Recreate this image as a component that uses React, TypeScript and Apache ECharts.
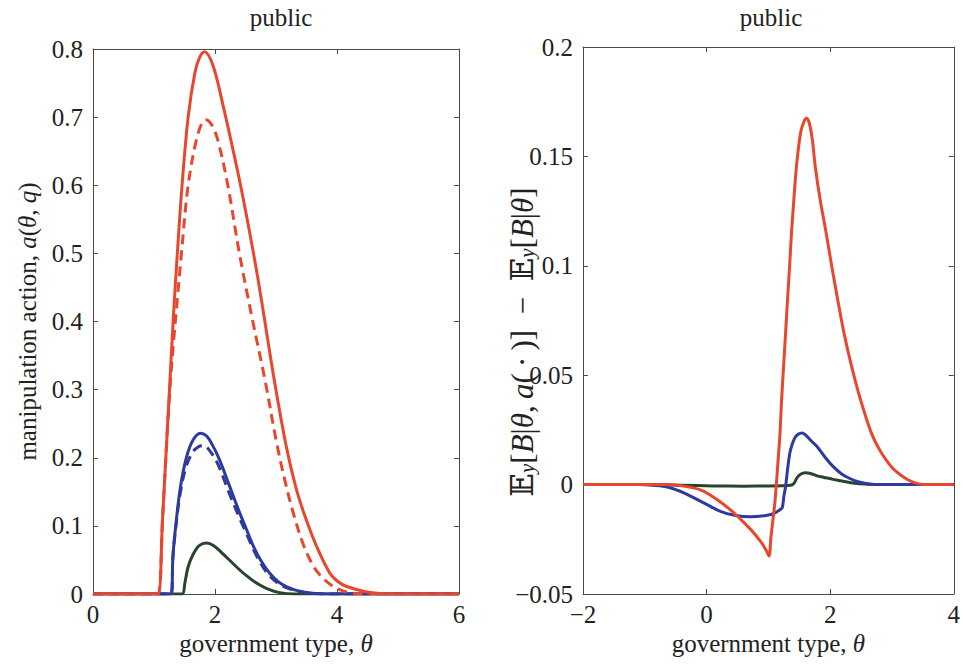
import React, { useEffect, useRef } from 'react';
import * as echarts from 'echarts';

const FONT = 'Liberation Serif, DejaVu Serif, serif';
const TEXT = '#222';
const FRAME = '#4a4a4a';
const RED = '#e8472d';
const BLUE = '#2d3a9e';
const GREEN = '#28452c';

const titles = ['public', 'public'];
const leftXLabel = 'government type, {i|θ}';
const rightXLabel = 'government type, {i|θ}';
const leftYLabel = 'manipulation action, {i|a}({i|θ}, {i|q})';
const rightYLabel = '{e|𝔼}{s|y}[{i|B}|{i|θ},\u2009{i|a}(\u2009·\u2009)]\u2002−\u2002{e|𝔼}{s|y}[{i|B}|{i|θ}]';

// Left panel: manipulation action a(θ, q)
const leftRedSolid: [number, number][] = [
  [0, 0], [1.0, 0], [1.07, 0], [1.14, 0.11], [1.2, 0.21], [1.26, 0.31], [1.32, 0.41], [1.39, 0.51],
  [1.46, 0.6], [1.56, 0.7], [1.67, 0.765], [1.75, 0.788], [1.83, 0.796], [1.97, 0.775], [2.13, 0.718],
  [2.3, 0.65], [2.43, 0.595], [2.57, 0.53], [2.7, 0.465], [2.8, 0.41], [2.97, 0.315], [3.17, 0.216],
  [3.33, 0.155], [3.48, 0.113], [3.67, 0.069], [3.88, 0.031], [4.02, 0.018], [4.16, 0.011],
  [4.49, 0.003], [4.8, 0.0005], [5.2, 0], [6, 0],
];
const leftRedDashed: [number, number][] = [
  [0, 0], [1.0, 0], [1.07, 0], [1.14, 0.11], [1.2, 0.21], [1.26, 0.3], [1.32, 0.37], [1.38, 0.43],
  [1.45, 0.5], [1.56, 0.6], [1.69, 0.665], [1.78, 0.69], [1.85, 0.696], [1.95, 0.688], [2.05, 0.665],
  [2.21, 0.6], [2.4, 0.5], [2.62, 0.4], [2.82, 0.314], [3.01, 0.222], [3.15, 0.165], [3.28, 0.12],
  [3.45, 0.072], [3.6, 0.043], [3.72, 0.028], [3.94, 0.011], [4.2, 0.002], [4.5, 0], [6, 0],
];
const leftBlueSolid: [number, number][] = [
  [0, 0], [1.22, 0], [1.28, 0], [1.31, 0.055], [1.35, 0.095], [1.43, 0.155], [1.53, 0.2], [1.64, 0.226],
  [1.76, 0.236], [1.86, 0.232], [1.95, 0.22], [2.07, 0.198], [2.24, 0.158], [2.41, 0.118], [2.52, 0.094],
  [2.63, 0.07], [2.76, 0.048], [2.9, 0.03], [3.05, 0.017], [3.17, 0.011], [3.35, 0.005], [3.6, 0.001],
  [3.9, 0], [6, 0],
];
const leftBlueDashed: [number, number][] = [
  [0, 0], [1.22, 0], [1.28, 0], [1.31, 0.054], [1.35, 0.092], [1.43, 0.148], [1.53, 0.188], [1.64, 0.209],
  [1.73, 0.216], [1.8, 0.218], [1.9, 0.212], [2.05, 0.19], [2.22, 0.151], [2.4, 0.112], [2.52, 0.088],
  [2.62, 0.067], [2.75, 0.045], [2.88, 0.028], [3.03, 0.016], [3.15, 0.01], [3.35, 0.004], [3.6, 0.001],
  [3.9, 0], [6, 0],
];
const leftGreen: [number, number][] = [
  [0, 0], [1.42, 0], [1.47, 0], [1.51, 0.018], [1.56, 0.04], [1.64, 0.058], [1.74, 0.071], [1.86, 0.075],
  [1.98, 0.071], [2.13, 0.059], [2.35, 0.04], [2.5, 0.028], [2.68, 0.016], [2.85, 0.008], [3.06, 0.002],
  [3.3, 0], [6, 0],
];

// Right panel: E_y[B|θ,a(·)] − E_y[B|θ]
const rightRed: [number, number][] = [
  [-2, 0], [-0.7, 0], [-0.5, -0.0002], [-0.35, -0.0008], [-0.09, -0.0025], [0.18, -0.007], [0.45, -0.0131],
  [0.72, -0.0207], [0.88, -0.0262], [0.96, -0.0298], [1.01, -0.0326], [1.04, -0.0245], [1.07, -0.017],
  [1.107, -0.0077], [1.13, 0.0006], [1.15, 0.0082], [1.188, 0.0234], [1.214, 0.0387], [1.246, 0.0539],
  [1.278, 0.0691], [1.31, 0.0844], [1.343, 0.0996], [1.374, 0.1149], [1.412, 0.1301], [1.454, 0.1453],
  [1.519, 0.1605], [1.57, 0.1655], [1.615, 0.1674], [1.66, 0.1655], [1.71, 0.158], [1.759, 0.1453],
  [1.839, 0.1301], [1.936, 0.1149], [2.027, 0.0996], [2.123, 0.0844], [2.225, 0.0691], [2.348, 0.0539],
  [2.492, 0.0387], [2.669, 0.0234], [2.802, 0.0158], [2.99, 0.0082], [3.18, 0.0036], [3.35, 0.001],
  [3.5, 0], [4, 0],
];
const rightBlue: [number, number][] = [
  [-2, 0], [-1.1, 0], [-0.88, -0.0003], [-0.62, -0.0012], [-0.35, -0.004], [-0.03, -0.0086],
  [0.235, -0.0124], [0.45, -0.014], [0.716, -0.0147], [0.98, -0.014], [1.1, -0.013], [1.19, -0.0114],
  [1.225, -0.0105], [1.25, -0.0055], [1.278, -0.001], [1.316, 0.0082], [1.358, 0.0158], [1.423, 0.0211],
  [1.48, 0.023], [1.546, 0.0236], [1.62, 0.0222], [1.7, 0.0198], [1.79, 0.0173], [1.92, 0.0124],
  [2.05, 0.0082], [2.18, 0.005], [2.31, 0.0029], [2.45, 0.0013], [2.6, 0.0004], [2.8, 0], [4, 0],
];
const rightGreen: [number, number][] = [
  [-2, 0], [-0.8, 0], [-0.4, -0.0003], [0.1, -0.0006], [0.6, -0.0007], [1.0, -0.0006], [1.3, -0.0004],
  [1.38, -0.0002], [1.42, 0.0008], [1.46, 0.003], [1.52, 0.0047], [1.6, 0.0054], [1.68, 0.0051],
  [1.79, 0.004], [1.89, 0.0034], [2.05, 0.0024], [2.21, 0.0015], [2.4, 0.0006], [2.6, 0.0002], [2.8, 0],
  [4, 0],
];

const fmt = (v: number) => {
  const r = Math.round(v * 100) / 100;
  return r < 0 ? '\u2212' + String(Math.abs(r)) : String(r);
};

const FS = 25;
const baseText = { fontFamily: FONT, fontSize: FS, color: TEXT };
const richLeft = {
  i: { ...baseText, fontStyle: 'italic' },
};
const FS2 = 31;
const richRight = {
  i: { fontFamily: FONT, fontSize: FS2, fill: TEXT, fontStyle: 'italic' },
  e: { fontFamily: FONT, fontSize: FS2, fill: TEXT },
  s: { fontFamily: FONT, fontSize: 21, fill: TEXT, fontStyle: 'italic', verticalAlign: 'bottom', lineHeight: 21 },
};

const frameLine = { show: true, onZero: false, lineStyle: { color: FRAME, width: 1 } };
const frameTick = { show: true, inside: true, length: 5, lineStyle: { color: FRAME, width: 1 } };

function xAxes(grid: number, min: number, max: number, interval: number, name: string) {
  const common = {
    gridIndex: grid, type: 'value', min, max, interval,
    axisLine: frameLine, axisTick: frameTick, splitLine: { show: false },
  };
  return [
    {
      ...common, position: 'bottom',
      axisLabel: { margin: 8, formatter: fmt, ...baseText },
      name, nameLocation: 'middle', nameGap: 37, nameMoveOverlap: false,
      nameTextStyle: { ...baseText, rich: richLeft },
    },
    { ...common, position: 'top', axisLabel: { show: false } },
  ];
}

function yAxes(grid: number, min: number, max: number, interval: number, name: string, gap: number) {
  const common = {
    gridIndex: grid, type: 'value', min, max, interval,
    axisLine: frameLine, axisTick: frameTick, splitLine: { show: false },
  };
  return [
    {
      ...common, position: 'left',
      axisLabel: { margin: 10, formatter: fmt, ...baseText },
      name, nameLocation: 'middle', nameGap: gap, nameMoveOverlap: false,
      nameTextStyle: { ...baseText, rich: richLeft },
    },
    { ...common, position: 'right', axisLabel: { show: false } },
  ];
}

function line(data: [number, number][], color: string, axis: number, dashed = false) {
  return {
    type: 'line', data, xAxisIndex: axis, yAxisIndex: axis,
    showSymbol: false, symbol: 'none', smooth: 0.35,
    lineStyle: { color, width: 3, type: dashed ? [10, 6] : 'solid', cap: 'butt', join: 'round' },
    silent: true,
  };
}

export default function App() {
  const ref = useRef<HTMLDivElement>(null);
  useEffect(() => {
    if (!ref.current) return;
    const chart = echarts.init(ref.current, undefined, { renderer: 'svg' });
    const xa = [...xAxes(0, 0, 6, 2, leftXLabel), ...xAxes(1, -2, 4, 2, rightXLabel)];
    const ya = [
      ...yAxes(0, 0, 0.8, 0.1, leftYLabel, 53),
      ...yAxes(1, -0.05, 0.2, 0.05, '', 40),
    ];
    chart.setOption({
      animation: false,
      backgroundColor: '#fff',
      title: [
        { text: titles[0], left: 276, top: 0, textAlign: 'center', textStyle: { ...baseText, fontWeight: 'normal' } },
        { text: titles[1], left: 766, top: 0, textAlign: 'center', textStyle: { ...baseText, fontWeight: 'normal' } },
      ],
      grid: [
        { left: 93, top: 49, width: 366, height: 545 },
        { left: 583, top: 47, width: 374, height: 547 },
      ],
      xAxis: xa,
      yAxis: ya,
      graphic: [
        {
          type: 'text',
          x: 522,
          y: 342,
          rotation: Math.PI / 2,
          silent: true,
          style: {
            text: rightYLabel,
            rich: richRight,
            fontFamily: FONT,
            fontSize: FS2,
            fill: TEXT,
            align: 'center',
            verticalAlign: 'middle',
          },
        },
      ],
      series: [
        line(leftGreen, GREEN, 0),
        line(leftBlueDashed, BLUE, 0, true),
        line(leftBlueSolid, BLUE, 0),
        line(leftRedDashed, RED, 0, true),
        line(leftRedSolid, RED, 0),
        line(rightGreen, GREEN, 2),
        line(rightBlue, BLUE, 2),
        line(rightRed, RED, 2),
      ],
    });
    return () => chart.dispose();
  }, []);
  return (
    <div
      ref={ref}
      style={{ position: 'fixed', left: 0, top: 0, width: 963, height: 664, background: '#fff' }}
    />
  );
}
